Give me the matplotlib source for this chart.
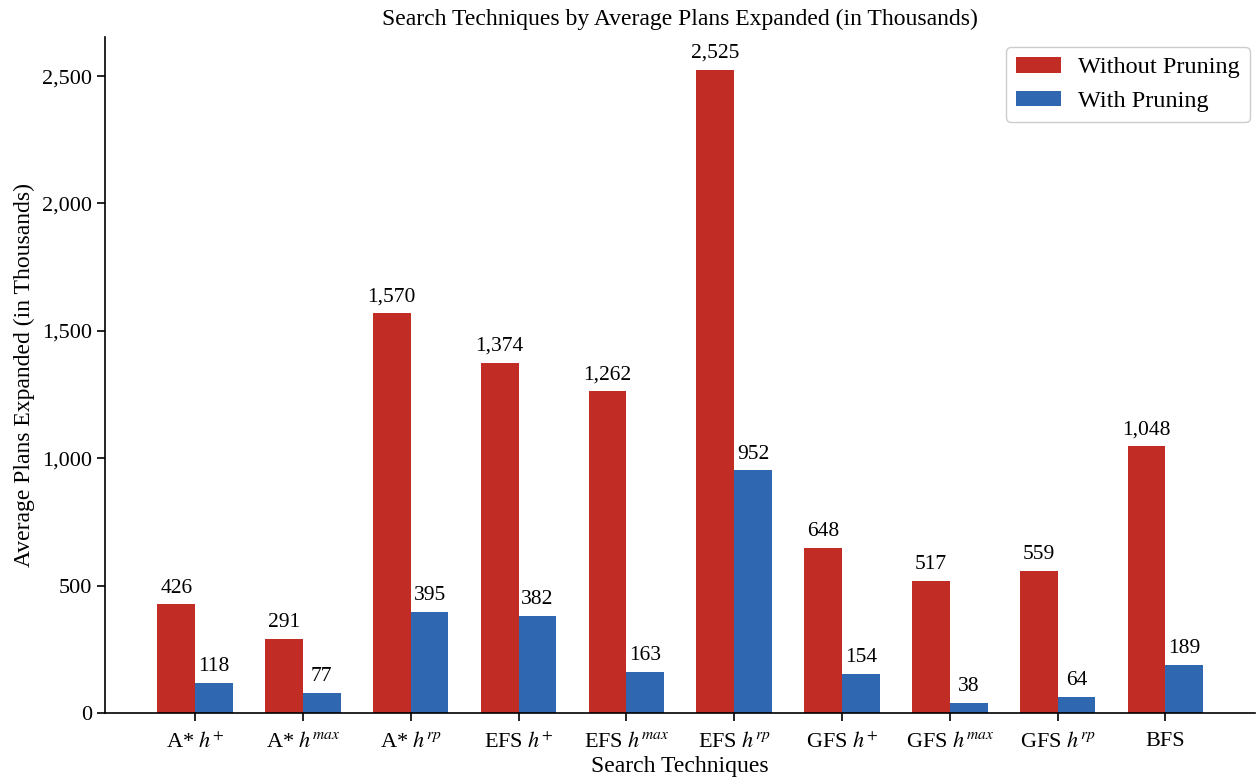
import numpy as np
import matplotlib
matplotlib.use("Agg")
import matplotlib.pyplot as plt

# data
techniques = [r"A* $h^{+}$", r"A* $h^{max}$", r"A* $h^{rp}$",
              r"EFS $h^{+}$", r"EFS $h^{max}$", r"EFS $h^{rp}$",
              r"GFS $h^{+}$", r"GFS $h^{max}$", r"GFS $h^{rp}$", "BFS"]
without_pruning = [426, 291, 1570, 1374, 1262, 2525, 648, 517, 559, 1048]
with_pruning = [118, 77, 395, 382, 163, 952, 154, 38, 64, 189]

plt.rcParams['font.family'] = ['Liberation Serif', 'DejaVu Serif']
plt.rcParams['mathtext.fontset'] = 'stix'

fig = plt.figure(figsize=(12.58, 7.78), dpi=100)
ax = fig.add_axes([0.0835, 0.0835, 0.9145, 0.8685])

x = np.arange(len(techniques))
width = 0.35
red = '#c12c25'
blue = '#2f67b1'

b1 = ax.bar(x - width / 2, without_pruning, width, color=red, label='Without Pruning')
b2 = ax.bar(x + width / 2, with_pruning, width, color=blue, label='With Pruning')

# value labels above bars
for bars in (b1, b2):
    for rect in bars:
        h = rect.get_height()
        ax.annotate(f"{int(h):,}", (rect.get_x() + rect.get_width() / 2, h),
                    xytext=(0, 5), textcoords='offset points',
                    ha='center', va='bottom', fontsize=15.5)

ax.set_xticks(x)
ax.set_xticklabels(techniques, fontsize=16)
ax.yaxis.set_major_formatter(matplotlib.ticker.FuncFormatter(lambda v, p: f"{int(v):,}"))
ax.tick_params(axis='y', labelsize=16)
ax.tick_params(direction='out', length=6, width=1.2)
ax.tick_params(axis='x', pad=8)
ax.set_ylim(0, 2652)

ax.spines['top'].set_visible(False)
ax.spines['right'].set_visible(False)
for s in ('left', 'bottom'):
    ax.spines[s].set_linewidth(1.2)

ax.set_title('Search Techniques by Average Plans Expanded (in Thousands)', fontsize=17, pad=9)
ax.set_xlabel('Search Techniques', fontsize=17, labelpad=2)
ax.set_ylabel('Average Plans Expanded (in Thousands)', fontsize=17, labelpad=5)

ax.legend(loc='upper right', fontsize=17.5, handlelength=1.85, handleheight=0.6,
          handletextpad=0.7, borderpad=0.4, borderaxespad=0, framealpha=1,
          edgecolor='#cccccc', bbox_to_anchor=(0.9948, 0.985))

fig.savefig('out.png', dpi=100)
